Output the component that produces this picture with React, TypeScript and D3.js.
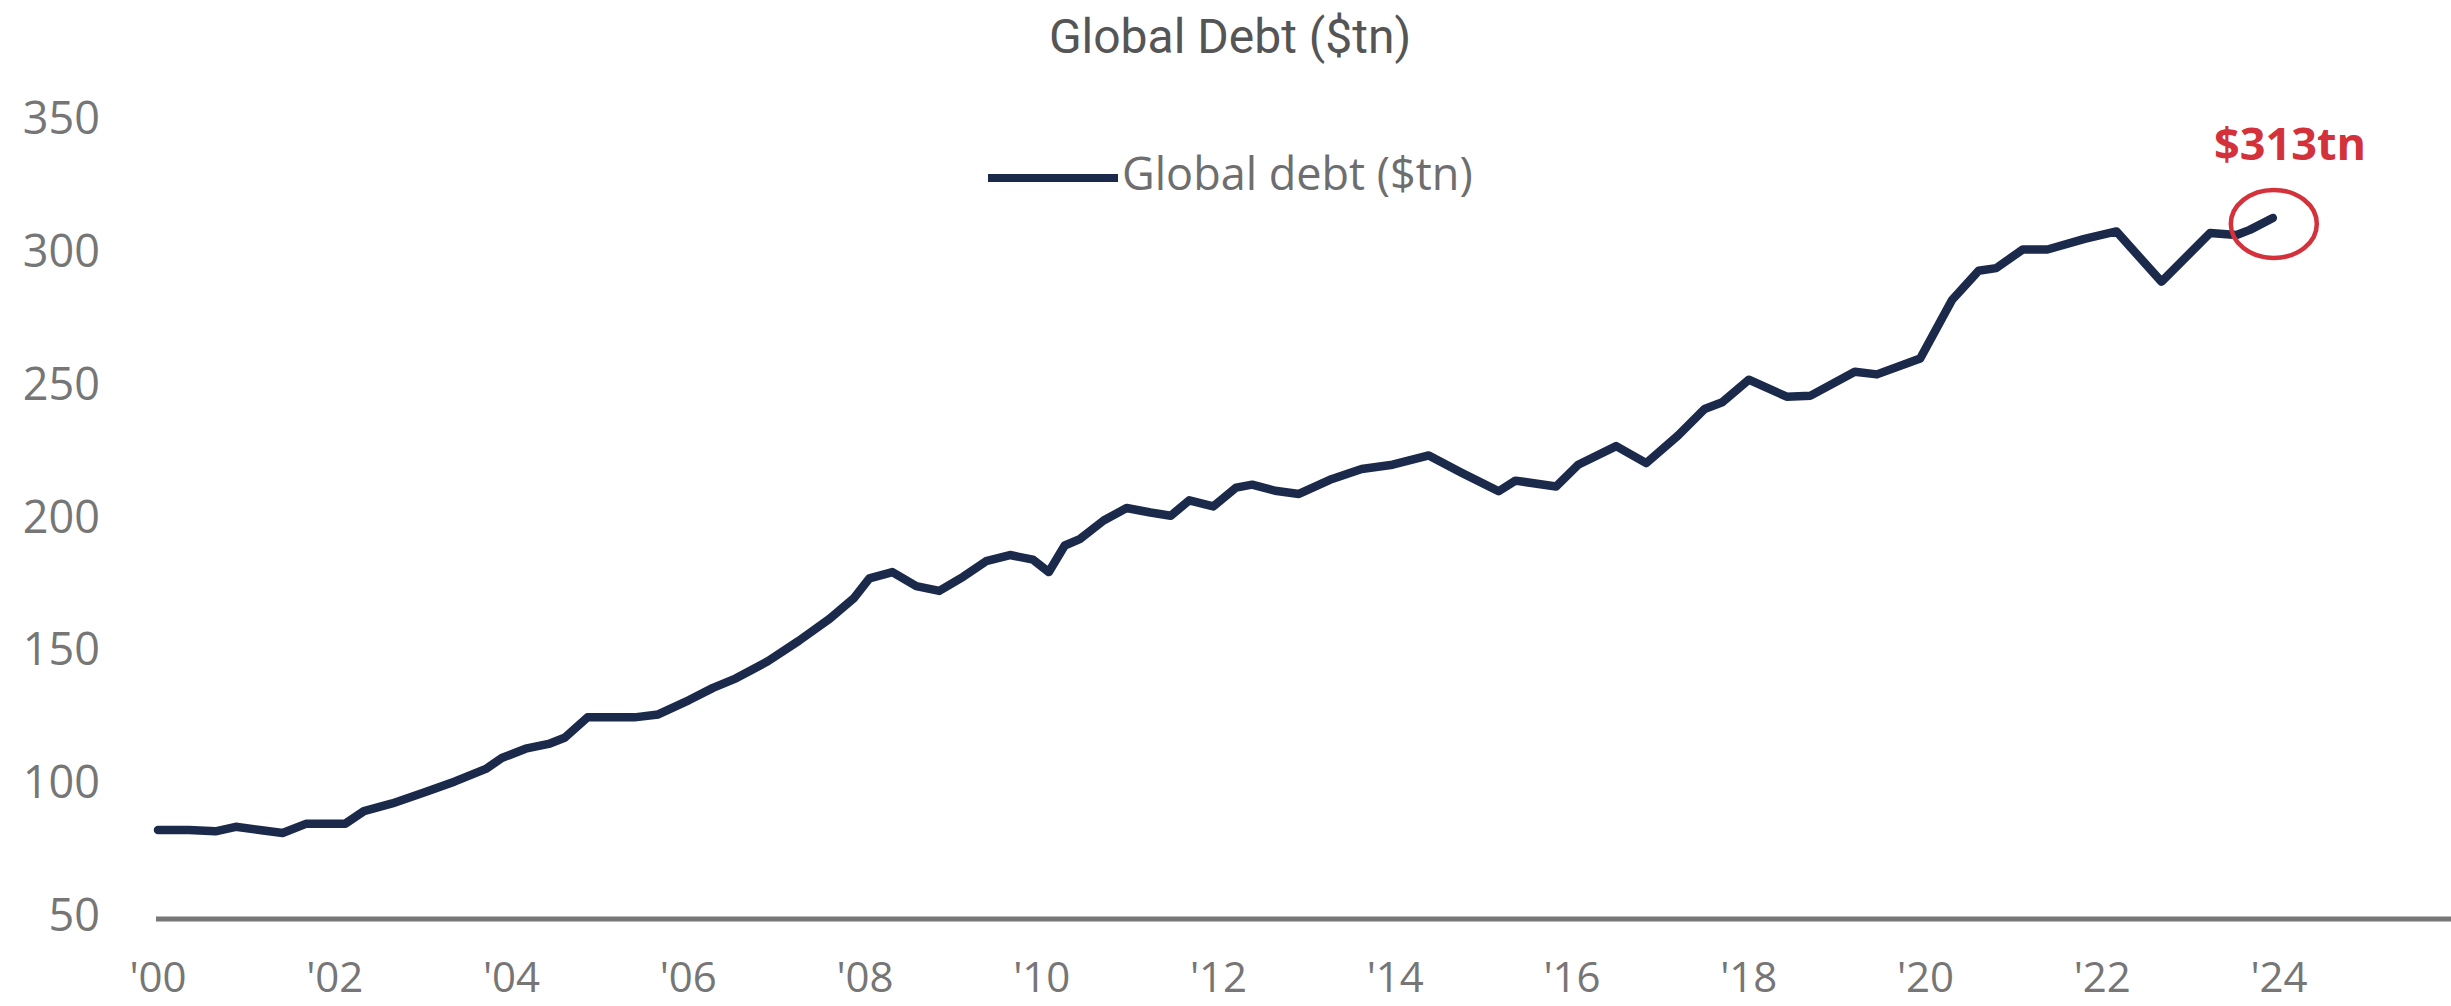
import React from "react";
import * as d3 from "d3";

const years: number[] = [
  2000.0, 2000.35, 2000.65, 2000.88, 2001.15, 2001.41, 2001.68, 2002.12, 2002.33, 2002.65,
  2003.01, 2003.36, 2003.71, 2003.89, 2004.16, 2004.42, 2004.6, 2004.86, 2005.13, 2005.39,
  2005.66, 2006.01, 2006.28, 2006.54, 2006.9, 2007.25, 2007.6, 2007.87, 2008.05, 2008.31,
  2008.58, 2008.84, 2009.11, 2009.37, 2009.64, 2009.9, 2010.08, 2010.26, 2010.43, 2010.7,
  2010.96, 2011.23, 2011.46, 2011.67, 2011.94, 2012.2, 2012.38, 2012.64, 2012.91, 2013.26,
  2013.62, 2013.97, 2014.38, 2014.75, 2015.17, 2015.36, 2015.82, 2016.07, 2016.5, 2016.84,
  2017.2, 2017.5, 2017.7, 2018.0, 2018.43, 2018.7, 2019.2, 2019.45, 2019.94, 2020.3,
  2020.6, 2020.8, 2021.1, 2021.38, 2021.8, 2022.16, 2022.67, 2023.22, 2023.52, 2023.67,
  2023.93,
];

const debt: number[] = [
  83.5, 83.5, 83, 84.7, 83.5, 82.4, 85.9, 85.9, 90.6, 93.5,
  97.6, 101.8, 106.5, 110.6, 114.1, 115.9, 118.2, 125.9, 125.9, 125.9,
  127, 132.4, 137, 140.6, 147, 154.7, 163, 170.6, 178.2, 180.6,
  175.3, 173.5, 178.8, 184.7, 187, 185.3, 180.6, 190.6, 193, 200,
  204.7, 203, 201.8, 207.6, 205.3, 212.4, 213.5, 211.2, 210, 215.3,
  219.4, 221, 224.5, 218, 211, 215, 212.8, 221, 228, 221.6,
  232, 242, 244.5, 253, 246.6, 247, 256, 255, 261, 283,
  294, 295, 302, 302, 306, 308.8, 289.9, 308.2, 307.5, 309.4,
  313.9,
];

const yTicks: number[] = [50, 100, 150, 200, 250, 300, 350];
const xTicks: number[] = [2000, 2002, 2004, 2006, 2008, 2010, 2012, 2014, 2016, 2018, 2020, 2022, 2024];
const xTickLabels: string[] = ["'00", "'02", "'04", "'06", "'08", "'10", "'12", "'14", "'16", "'18", "'20", "'22", "'24"];

const titleText = "Global Debt ($tn)";
const legendText = "Global debt ($tn)";
const annotationText = "$313tn";

const W = 2451;
const H = 1006;

export default function App() {
  const x = d3.scaleLinear().domain([2000, 2024]).range([158, 2279]);
  const y = d3.scaleLinear().domain([50, 350]).range([919, 122]);
  const pts = years.map((yr, i) => ({ yr, v: debt[i] }));
  const line = d3
    .line<{ yr: number; v: number }>()
    .x((d) => x(d.yr))
    .y((d) => y(d.v));
  const last = pts[pts.length - 1];
  const lx = x(last.yr);
  const ly = y(last.v);

  return (
    <svg
      width={W}
      height={H}
      style={{ position: "absolute", left: 0, top: 0, display: "block", background: "#fff" }}
    >
      <text
        x={1230}
        y={53}
        textAnchor="middle"
        fontFamily="Roboto"
        fontWeight={400}
        fontSize={48}
        fill="#555555"
      >
        {titleText}
      </text>

      {yTicks.map((t) => (
        <text
          key={t}
          x={100}
          y={y(t)}
          textAnchor="end"
          dominantBaseline="middle"
          fontFamily="Open Sans"
          fontSize={45}
          fill="#767676"
        >
          {t}
        </text>
      ))}

      {xTicks.map((t, i) => (
        <text
          key={t}
          x={x(t)}
          y={992}
          textAnchor="middle"
          fontFamily="Open Sans"
          fontSize={42}
          fill="#767676"
        >
          {xTickLabels[i]}
        </text>
      ))}

      <line x1={156} x2={W} y1={y(50)} y2={y(50)} stroke="#777777" strokeWidth={5} />

      <path
        d={line(pts) || ""}
        fill="none"
        stroke="#1b294b"
        strokeWidth={8.5}
        strokeLinejoin="round"
        strokeLinecap="round"
      />

      <line x1={988} x2={1118} y1={178} y2={178} stroke="#1b294b" strokeWidth={8} />
      <text
        x={1122}
        y={178}
        dominantBaseline="middle"
        fontFamily="Open Sans"
        fontSize={45}
        fill="#6e6e6e"
      >
        {legendText}
      </text>

      <ellipse cx={lx + 1} cy={ly + 6} rx={43} ry={34} fill="none" stroke="#d3323b" strokeWidth={4.5} />
      <text
        x={2290}
        y={148}
        textAnchor="middle"
        dominantBaseline="middle"
        fontFamily="Open Sans"
        fontWeight={700}
        fontSize={45}
        fill="#d3323b"
      >
        {annotationText}
      </text>
    </svg>
  );
}
